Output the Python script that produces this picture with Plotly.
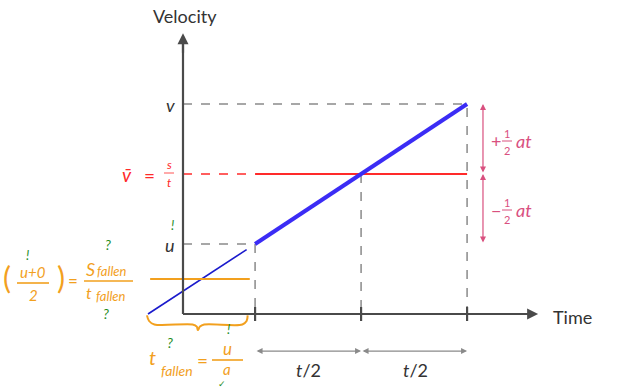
import plotly.graph_objects as go

# ---------------- data (physics units) ----------------
time_ticks = [0.68, 1.68, 2.68]          # start, t/2, t
v_u, v_bar, v_v = 1.0, 2.0, 3.0          # u, v-bar, v
axis_t_end, axis_v_end = 3.35, 4.01      # axis arrow tips
ext_t = [-0.33, 0.60]                    # hand-drawn blue extension
ext_v = [0.0, 0.92]
avg_t = [-0.31, 0.63]                    # orange average line
avg_v = [0.5, 0.5]
arrow_t = 2.83                           # right-hand ±½at arrows
halfspan_v = -0.53                       # t/2 arrows level
brace_t = [-0.34, -0.32, -0.27, 0.09, 0.13, 0.14, 0.16, 0.20, 0.56, 0.60, 0.61]
brace_v = [-0.02, -0.10, -0.15, -0.15, -0.18, -0.23, -0.18, -0.15, -0.15, -0.10, -0.02]

# ---------------- layout helpers (pixel -> data) ----------------
W, H = 632, 389
X0, Y0, SX, SY = 183, 314, 106, 70
def X(p): return (p - X0) / SX
def Y(p): return (Y0 - p) / SY

AX = "#4a4a4a"; GR = "#8a8a8a"; RED = "#ff2a2a"; BLUE = "#3b2cf5"
THIN = "#1a1acc"; OR = "#f2a01e"; PINK = "#d9507f"; GRN = "#1e8c1e"
FONT = "Lato"; HAND = "Lato"

fig = go.Figure()
def line(xs, ys, color, width, dash="solid"):
    fig.add_trace(go.Scatter(x=xs, y=ys, mode="lines", hoverinfo="skip",
                             line=dict(color=color, width=width, dash=dash)))

t0, t1, t2 = time_ticks
# gray dashed guides
line([0, t2, t2], [v_v, v_v, 0], GR, 1.5, "dash")
line([0, t0, t0], [v_u, v_u, 0], GR, 1.5, "dash")
line([t1, t1], [v_bar, 0], GR, 1.5, "dash")
# red average
line([0, t0], [v_bar, v_bar], RED, 1.3, "dash")
line([t0, t2], [v_bar, v_bar], RED, 1.8)
# thick blue velocity line
line([t0, t2], [v_u, v_v], BLUE, 4)
# hand-drawn parts
line(ext_t, ext_v, THIN, 1.6)
line(avg_t, avg_v, OR, 2.2)
fig.add_trace(go.Scatter(x=brace_t, y=brace_v, mode="lines", hoverinfo="skip",
                         line=dict(color=OR, width=2, shape="spline")))
# axis lines
line([0, 0], [0, axis_v_end - 0.05], AX, 2.2)
line([0, axis_t_end - 0.05], [0, 0], AX, 2.2)
# ticks
tx, ty = [], []
for t in time_ticks:
    tx += [t, t, None]; ty += [0.1, -0.1, None]
line(tx, ty, AX, 2.2)

ann = []
def arrow(x, y, ax, ay, color, width=1.5, both=False, head=2, size=1):
    ann.append(dict(x=x, y=y, ax=ax, ay=ay, xref="x", yref="y", axref="x", ayref="y",
                    showarrow=True, arrowhead=head, arrowsize=size, arrowwidth=width,
                    arrowcolor=color, text="", standoff=0, startstandoff=0,
                    arrowside="end+start" if both else "end", startarrowhead=head,
                    startarrowsize=size))
arrow(0, axis_v_end, 0, axis_v_end - 0.3, AX, 2.2)
arrow(axis_t_end, 0, axis_t_end - 0.3, 0, AX, 2.2)
arrow(arrow_t, v_v, arrow_t, v_bar, PINK, 1.2, both=True)
arrow(arrow_t, v_bar, arrow_t, v_u, PINK, 1.2, both=True)
arrow(t1, halfspan_v, t0, halfspan_v, GR, 1.2, both=True)
arrow(t2, halfspan_v, t1, halfspan_v, GR, 1.2, both=True)

def txt(px, py, s, size=18, color="#333333", family=FONT, xanchor="center"):
    ann.append(dict(x=X(px), y=Y(py), xref="x", yref="y", text=s, showarrow=False,
                    xanchor=xanchor, yanchor="middle",
                    font=dict(size=size, color=color, family=family)))

txt(185, 16, "Velocity")
txt(572, 317, "Time")
txt(170, 105, "<i>v</i>", 18)
txt(170, 245, "<i>u</i>", 18)
txt(308, 370, "<i>t</i>/2", 18)
txt(415, 370, "<i>t</i>/2", 18)
# v-bar = s/t
txt(127, 174, "<i>v̄</i>", 19, RED)
txt(149, 175, "=", 19, RED)
txt(169, 164, "<i>s</i>", 12, RED)
txt(169, 182, "<i>t</i>", 12, RED)
# ±½at
txt(496, 141, "+", 18, PINK)
txt(507, 133, "1", 11, PINK)
txt(507, 150, "2", 11, PINK)
txt(524, 141, "<i>at</i>", 18, PINK)
txt(496, 210, "−", 18, PINK)
txt(507, 202, "1", 11, PINK)
txt(507, 219, "2", 11, PINK)
txt(524, 210, "<i>at</i>", 18, PINK)

# handwritten orange formula
txt(7, 277, "(", 30, OR, HAND)
txt(61, 277, ")", 30, OR, HAND)
txt(33, 272, "<i>u+0</i>", 15, OR, HAND)
txt(33, 295, "<i>2</i>", 15, OR, HAND)
txt(73, 280, "=", 17, OR, HAND)
txt(90, 269, "<i>S</i>", 18, OR, HAND)
txt(112, 271, "<i>fallen</i>", 13, OR, HAND)
txt(89, 292, "<i>t</i>", 16, OR, HAND)
txt(111, 296, "<i>fallen</i>", 13, OR, HAND)
txt(152, 357, "<i>t</i>", 20, OR, HAND)
txt(177, 370, "<i>fallen</i>", 14, OR, HAND)
txt(202, 360, "=", 19, OR, HAND)
txt(227, 348, "<i>u</i>", 17, OR, HAND)
txt(227, 369, "<i>a</i>", 15, OR, HAND)
# green marks
txt(27, 255, "<i>!</i>", 13, GRN, HAND)
txt(172, 225, "<i>!</i>", 13, GRN, HAND)
txt(108, 244, "<i>?</i>", 14, GRN, HAND)
txt(106, 313, "<i>?</i>", 14, GRN, HAND)
txt(170, 342, "<i>?</i>", 14, GRN, HAND)
txt(228, 329, "<i>!</i>", 13, GRN, HAND)
txt(222, 383, "✓", 9, GRN, HAND)

# fraction bars
line([X(17), X(49)], [Y(283), Y(283)], OR, 1.6)
line([X(84), X(133)], [Y(281), Y(281)], OR, 1.6)
line([X(212), X(243)], [Y(360), Y(360)], OR, 1.6)
line([X(164), X(174)], [Y(173), Y(173)], RED, 0.8)
line([X(502), X(512)], [Y(141), Y(141)], PINK, 1)
line([X(502), X(512)], [Y(210), Y(210)], PINK, 1)

fig.update_layout(
    width=W, height=H, margin=dict(l=0, r=0, t=0, b=0),
    paper_bgcolor="white", plot_bgcolor="white", showlegend=False,
    annotations=ann,
    xaxis=dict(range=[X(0), X(W)], visible=False, fixedrange=True),
    yaxis=dict(range=[Y(H), Y(0)], visible=False, fixedrange=True),
)
fig.write_html("out.html", config={"displayModeBar": False},
               post_script="document.body.style.margin='0px';document.body.style.overflow='hidden';")
